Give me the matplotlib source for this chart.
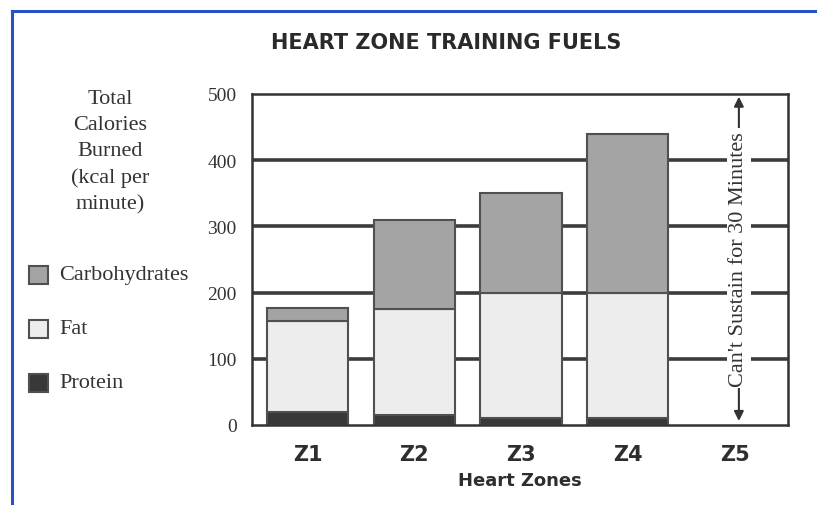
import matplotlib
matplotlib.use("Agg")
import matplotlib.pyplot as plt
from matplotlib.lines import Line2D
from matplotlib.patches import Rectangle
import numpy as np

zones = ["Z1", "Z2", "Z3", "Z4", "Z5"]
bar_zones = ["Z1", "Z2", "Z3", "Z4"]
protein = [20, 15, 10, 10]
fat = [137, 160, 190, 190]
carbs = [20, 135, 150, 240]
yticks = [0, 100, 200, 300, 400, 500]

c_carb = "#a4a4a4"
c_fat = "#ededed"
c_prot = "#383838"
edge = "#505050"
serif = ["Liberation Serif", "DejaVu Serif"]

fig = plt.figure(figsize=(8.17, 5.06), dpi=100)
ax = fig.add_axes([252/817, 1-426/506, (788-252)/817, (426-95)/506])

x = np.arange(len(zones))
xb = np.arange(len(bar_zones))
w = 0.76
for yv in yticks[1:-1]:
    ax.axhline(yv, color="#3c3c3c", lw=2.6, zorder=0)
ax.bar(xb, protein, w, color=c_prot, edgecolor=edge, lw=1.5, zorder=2)
ax.bar(xb, fat, w, bottom=protein, color=c_fat, edgecolor=edge, lw=1.5, zorder=2)
ax.bar(xb, carbs, w, bottom=np.array(protein)+np.array(fat), color=c_carb, edgecolor=edge, lw=1.5, zorder=2)

ax.set_xlim(-0.52, 4.5)
ax.set_ylim(0, 500)
ax.set_yticks(yticks)
ax.set_yticklabels([str(v) for v in yticks], family=serif, fontsize=14, color="#333333")
ax.tick_params(axis="y", length=0, pad=11)
ax.set_xticks(x)
ax.set_xticklabels(zones, fontsize=15, fontweight="heavy", color="#2e2e2e")
ax.tick_params(axis="x", length=0, pad=14)
for s in ax.spines.values():
    s.set_color("#333333")
    s.set_linewidth(1.8)
ax.set_xlabel("Heart Zones", fontsize=13, fontweight="heavy", color="#2e2e2e", labelpad=5)

# arrow and annotation in Z5
ax.annotate("", xy=(4.04, 496), xytext=(4.04, 6),
            arrowprops=dict(arrowstyle="<|-|>", color="#333333", lw=1.5,
                            mutation_scale=14, shrinkA=0, shrinkB=0), zorder=3)
ax.text(4.04, 252, "Can't Sustain for 30 Minutes", rotation=90, ha="center", va="center",
        family=serif, fontsize=16, color="#333333", zorder=4,
        bbox=dict(facecolor="white", edgecolor="none", pad=2))

# title
fig.text(446/817, 1-43/506, "HEART ZONE TRAINING FUELS", ha="center", va="center",
         fontsize=15, fontweight="heavy", color="#2a2a2a")

# left label
fig.text(110/817, 1-152/506, "Total\nCalories\nBurned\n(kcal per\nminute)", ha="center",
         va="center", family=serif, fontsize=16, color="#333333", linespacing=1.5)

# legend
items = [("Carbohydrates", c_carb, 276), ("Fat", c_fat, 330), ("Protein", c_prot, 384)]
for label, col, yp in items:
    fig.add_artist(Rectangle((29/817, 1-(yp+9)/506), 19/817, 18/506, transform=fig.transFigure,
                             facecolor=col, edgecolor=edge, lw=1.5))
    fig.text(59/817, 1-yp/506, label, ha="left", va="center", family=serif,
             fontsize=16, color="#333333")

# blue frame
fig.add_artist(Line2D([12/817, 12/817], [0, 1-12/506], transform=fig.transFigure,
                      color="#2a4fc8", lw=2.2))
fig.add_artist(Line2D([12/817, 1], [1-12/506, 1-12/506], transform=fig.transFigure,
                      color="#2a4fc8", lw=2.2))

fig.savefig("out.png", dpi=100)
